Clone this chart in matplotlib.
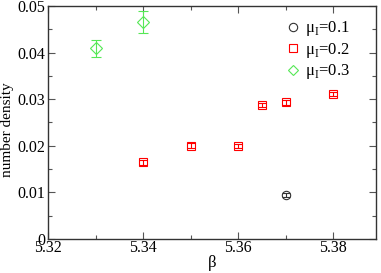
import matplotlib
matplotlib.use("Agg")
import matplotlib.pyplot as plt
from matplotlib.ticker import MultipleLocator
from matplotlib.lines import Line2D

plt.rcParams['font.family'] = ['Liberation Serif', 'DejaVu Serif']
plt.rcParams['mathtext.fontset'] = 'custom'
plt.rcParams['mathtext.rm'] = 'Liberation Serif'

beta1 = [5.37]
dens1 = [0.0094]
err1 = [0.0004]

beta2 = [5.34, 5.35, 5.36, 5.365, 5.37, 5.38]
dens2 = [0.0164, 0.0200, 0.0200, 0.0287, 0.0293, 0.0311]
err2 = [0.0005, 0.0005, 0.0004, 0.0004, 0.0005, 0.0004]

beta3 = [5.33, 5.34]
dens3 = [0.0409, 0.0466]
err3 = [0.0019, 0.0024]

labels = ['μ$_{\\mathrm{I}}$=0.1', 'μ$_{\\mathrm{I}}$=0.2', 'μ$_{\\mathrm{I}}$=0.3']
green = '#55e855'

fig = plt.figure(figsize=(3.81, 2.73), dpi=100)
ax = fig.add_axes([0.126, 0.125, 0.861, 0.853])

ax.errorbar(beta1, dens1, yerr=err1, fmt='o', mfc='none', mec='#333333', ecolor='#333333',
            ms=6, mew=0.8, elinewidth=0.8, capsize=3)
ax.errorbar(beta2, dens2, yerr=err2, fmt='s', mfc='none', mec='red', ecolor='red',
            ms=6, mew=0.8, elinewidth=0.8, capsize=3)
ax.errorbar(beta3, dens3, yerr=err3, fmt='D', mfc='none', mec=green, ecolor=green,
            ms=6, mew=0.8, elinewidth=0.8, capsize=3.5)

handles = [Line2D([], [], ls='none', marker='o', mfc='none', mec='#333333', ms=6, mew=0.8),
           Line2D([], [], ls='none', marker='s', mfc='none', mec='red', ms=6, mew=0.8),
           Line2D([], [], ls='none', marker='D', mfc='none', mec=green, ms=5.5, mew=0.8)]

ax.set_xlim(5.32, 5.389)
ax.set_ylim(0, 0.05)
ax.xaxis.set_major_locator(MultipleLocator(0.02))
ax.xaxis.set_minor_locator(MultipleLocator(0.01))
ax.yaxis.set_major_locator(MultipleLocator(0.01))
ax.yaxis.set_minor_locator(MultipleLocator(0.005))
ax.xaxis.set_major_formatter(plt.FuncFormatter(lambda v, p: '%.2f' % v))
ax.yaxis.set_major_formatter(plt.FuncFormatter(lambda v, p: '0' if abs(v) < 1e-9 else '%.2f' % v))
ax.tick_params(which='both', direction='in', top=True, right=True, labelsize=11.5, width=0.8, color='#555555')
ax.tick_params(which='major', length=5)
ax.tick_params(which='minor', length=3)
ax.tick_params(axis='x', pad=1)
ax.tick_params(axis='y', pad=2)
for s in ax.spines.values():
    s.set_linewidth(1.0)
    s.set_color('#333333')

ax.set_xlabel('β', fontsize=12)
ax.set_ylabel('number density', fontsize=11)
ax.xaxis.set_label_coords(0.5, -0.068)
ax.yaxis.set_label_coords(-0.104, 0.47)

ax.legend(handles, labels, loc='upper right', frameon=False, fontsize=12, handletextpad=0.2,
          labelspacing=0.15, borderaxespad=0.4, handlelength=1.0, bbox_to_anchor=(0.96, 1.0))

fig.savefig('out.png', dpi=100)
